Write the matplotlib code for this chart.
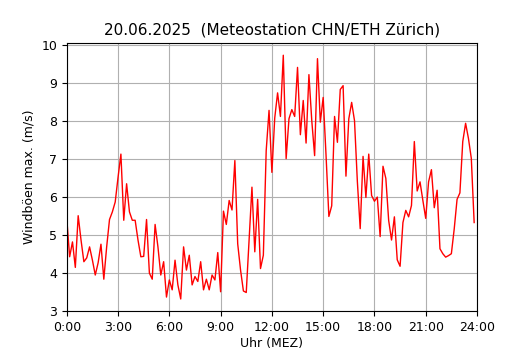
import matplotlib
matplotlib.use("Agg")
import matplotlib.pyplot as plt
import numpy as np

# max gust per 10 minutes, 00:00 .. 23:50
gusts = [5.42, 4.42, 4.81, 4.14, 5.50, 4.86, 4.29, 4.39, 4.68, 4.33, 3.94, 4.26, 4.75, 3.83, 4.68, 5.40, 5.60, 5.86, 6.51, 7.12,
         5.38, 6.34, 5.60, 5.38, 5.38, 4.86, 4.42, 4.43, 5.40, 3.99, 3.83, 5.27, 4.68, 3.94, 4.29, 3.36, 3.81,
         3.55, 4.33, 3.68, 3.31, 4.68, 4.07, 4.46, 3.68, 3.90, 3.77, 4.29, 3.55, 3.83, 3.55, 3.94, 3.81, 4.53, 3.50,
         5.62, 5.27, 5.90, 5.65, 6.95, 4.76, 4.07, 3.52, 3.48, 4.85, 6.25, 4.55, 5.93, 4.11, 4.46, 7.21, 8.27, 6.64,
         8.07, 8.73, 8.11, 9.72, 7.00, 8.05, 8.29, 8.11, 9.40, 7.63, 8.53, 7.41, 9.21, 8.00, 7.08, 9.63, 7.96, 8.61,
         7.10, 5.48, 5.76, 8.11, 7.43, 8.82, 8.92, 6.54, 8.05, 8.48, 8.00, 6.40, 5.16, 7.06, 5.98, 7.12, 6.03, 5.88,
         5.99, 4.95, 6.80, 6.48, 5.37, 4.86, 5.47, 4.34, 4.17, 5.32, 5.64, 5.47, 5.77, 7.45, 6.15, 6.39, 5.90, 5.43,
         6.39, 6.71, 5.71, 6.17, 4.63, 4.50, 4.41, 4.45, 4.50, 5.15, 5.93, 6.10, 7.45, 7.93, 7.53, 7.01, 5.32]
hours = np.arange(len(gusts)) / 6.0  # 10 min steps

tick_hours = [0, 3, 6, 9, 12, 15, 18, 21, 24]
tick_labels = ["0:00", "3:00", "6:00", "9:00", "12:00", "15:00", "18:00", "21:00", "24:00"]

fig = plt.figure(figsize=(5.3, 3.5), dpi=100)
ax = fig.add_axes([0.126, 0.111, 0.774, 0.766])
ax.plot(hours, gusts, color="red", linewidth=1)
ax.set_xlim(0, 24)
ax.set_xticks(tick_hours)
ax.set_xticklabels(tick_labels)
ax.tick_params(labelsize=9)
ax.grid(True)
ax.set_xlabel("Uhr (MEZ)", fontsize=9, labelpad=2.5)
ax.set_ylabel("Windböen max. (m/s)", fontsize=9)
ax.set_title("20.06.2025  (Meteostation CHN/ETH Zürich)", fontsize=11)
fig.savefig("out.png", dpi=100)
